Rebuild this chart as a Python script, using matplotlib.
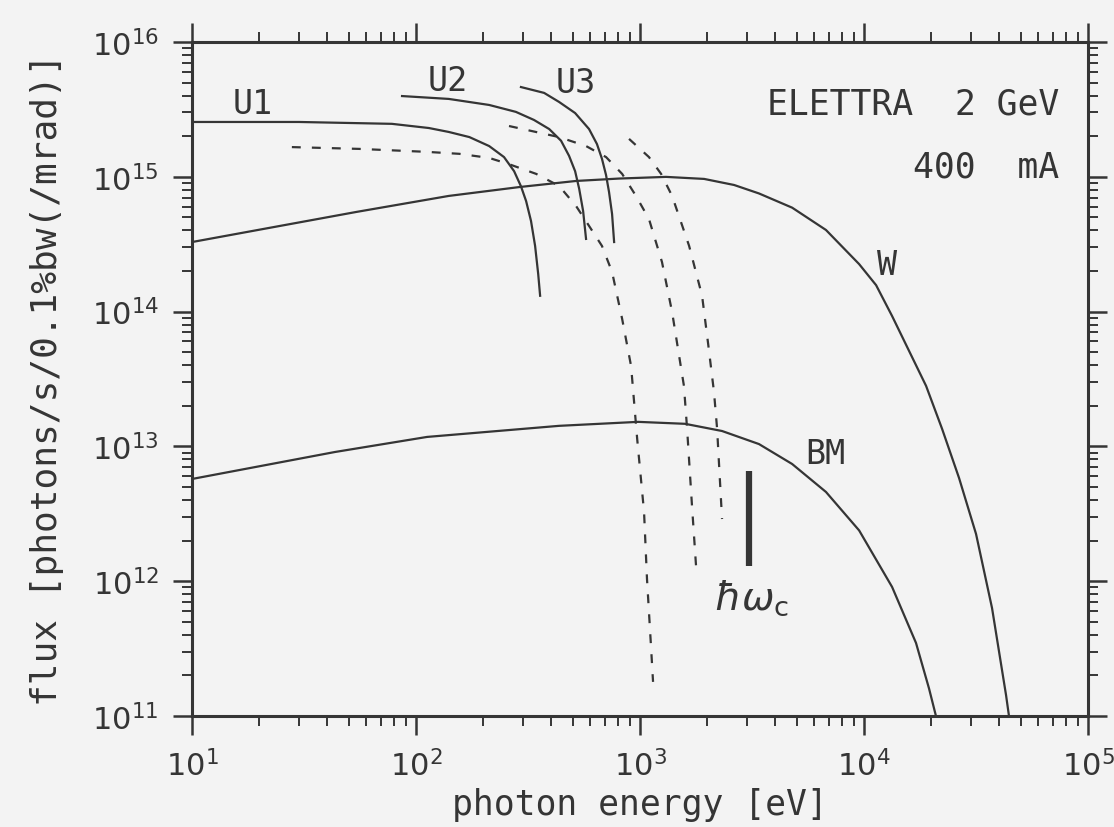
#Photon flux of the ELETTRA sources: undulators U1-U3, wiggler W and bending magnet BM
import matplotlib.pyplot as plt
from matplotlib.ticker import LogLocator, LogFormatterMathtext, NullFormatter

#Undulator U1 (solid) and its dashed companion
u1_E = [10, 30, 78, 114, 140, 173, 212, 247, 274, 294, 310, 326, 340, 351, 358]
u1_F = [2.55e15, 2.55e15, 2.47e15, 2.30e15, 2.15e15, 1.97e15, 1.69e15, 1.40e15,
        1.10e15, 8.5e14, 6.6e14, 4.7e14, 3.07e14, 1.90e14, 1.31e14]
u1d_E = [27.9, 55.7, 112, 156, 212, 260, 344, 435, 518, 592, 676, 750, 832, 912,
         971, 1042, 1074, 1119, 1143]
u1d_F = [1.66e15, 1.61e15, 1.53e15, 1.48e15, 1.38e15, 1.24e15, 1.05e15, 8.55e14,
         6.07e14, 4.32e14, 3.07e14, 1.97e14, 8.81e13, 3.94e13, 1.135e13, 3.26e12,
         1.04e12, 3.30e11, 1.79e11]

#Undulator U2
u2_E = [86.6, 140, 212, 279, 336, 393, 444, 482, 513, 535, 557, 574]
u2_F = [3.97e15, 3.78e15, 3.41e15, 3.03e15, 2.64e15, 2.26e15, 1.85e15, 1.43e15,
        1.10e15, 8.13e14, 5.57e14, 3.46e14]
u2d_E = [260, 435, 574, 705, 832, 959, 1096, 1253, 1390, 1570, 1622, 1706, 1778]
u2d_F = [2.38e15, 1.97e15, 1.69e15, 1.40e15, 1.05e15, 7.21e14, 4.86e14, 2.33e14,
         9.93e13, 2.81e13, 1.35e13, 3.61e12, 1.30e12]

#Undulator U3
u3_E = [294, 373, 435, 513, 592, 642, 676, 705, 727, 750, 766]
u3_F = [4.63e15, 4.19e15, 3.59e15, 2.97e15, 2.26e15, 1.75e15, 1.36e15, 1.03e15,
        7.71e14, 5.30e14, 3.28e14]
u3d_E = [893, 1096, 1242, 1390, 1656, 1892, 2014, 2138, 2208, 2323]
u3d_F = [1.91e15, 1.40e15, 1.05e15, 7.21e14, 3.07e14, 1.31e14, 5.75e13, 2.54e13,
         1.35e13, 2.89e12]

#Wiggler
w_E = [10, 54, 140, 291, 518, 805, 1306, 1932, 2630, 3396, 4775, 6761, 9506,
       11320, 13340, 15890, 18920, 22300, 26550, 31620, 37270, 43040, 44360]
w_F = [3.28e14, 5.48e14, 7.21e14, 8.40e14, 9.31e14, 9.7e14, 9.98e14, 9.64e14,
       8.69e14, 7.52e14, 5.90e14, 4.03e14, 2.25e14, 1.57e14, 9.27e13, 5.10e13,
       2.81e13, 1.35e13, 5.83e12, 2.24e12, 6.32e11, 1.43e11, 1.0e11]

#Bending magnet
bm_E = [10, 43.4, 112, 435, 980, 1589, 2323, 3396, 4775, 6761, 9506, 13340,
        17060, 19500, 20940]
bm_F = [5.73e12, 9.08e12, 1.175e13, 1.42e13, 1.52e13, 1.47e13, 1.30e13, 1.04e13,
        7.40e12, 4.59e12, 2.38e12, 9.06e11, 3.48e11, 1.60e11, 1.0e11]

#Critical energy marker
E_crit = 3070
crit_F = [1.3e12, 6.6e12]

ink = '#353535'
paper = '#f3f3f3'
mono = 'DejaVu Sans Mono'

fig = plt.figure(figsize=(11.14, 8.28), dpi=100, facecolor=paper)
ax = fig.add_axes([0.1724, 0.1341, 0.8043, 0.814])
ax.set_facecolor(paper)

dash = (0, (4, 5))
ax.plot(u1_E, u1_F, color=ink, lw=1.6)
ax.plot(u2_E, u2_F, color=ink, lw=1.6)
ax.plot(u3_E, u3_F, color=ink, lw=1.6)
ax.plot(u1d_E, u1d_F, color=ink, lw=1.6, ls=dash)
ax.plot(u2d_E, u2d_F, color=ink, lw=1.6, ls=dash)
ax.plot(u3d_E, u3d_F, color=ink, lw=1.6, ls=dash)
ax.plot(w_E, w_F, color=ink, lw=1.6)
ax.plot(bm_E, bm_F, color=ink, lw=1.6)
ax.plot([E_crit, E_crit], crit_F, color=ink, lw=4.5, solid_capstyle='butt')

ax.set_xscale('log')
ax.set_yscale('log')
ax.set_xlim(10, 1e5)
ax.set_ylim(1e11, 1e16)

#Curve labels
lab = dict(color=ink, fontsize=24, family=mono, ha='center', va='center')
ax.text(18.7, 3.5e15, 'U1', **lab)
ax.text(139, 5.2e15, 'U2', **lab)
ax.text(518, 4.97e15, 'U3', **lab)
ax.text(12670, 2.25e14, 'W', **lab)
ax.text(6700, 8.8e12, 'BM', **lab)
ax.text(3130, 7.6e11, r'$\hbar\omega_{\rm c}$', color=ink, fontsize=28,
        ha='center', va='center')
ax.text(74300, 3.5e15, 'ELETTRA  2 GeV', color=ink, fontsize=25, family=mono,
        ha='right', va='center')
ax.text(74300, 1.2e15, '400  mA', color=ink, fontsize=25, family=mono,
        ha='right', va='center')

#Frame and ticks
for s in ax.spines.values():
    s.set_linewidth(2.2)
    s.set_color(ink)
ax.xaxis.set_major_locator(LogLocator(base=10, numticks=10))
ax.yaxis.set_major_locator(LogLocator(base=10, numticks=10))
ax.xaxis.set_minor_locator(LogLocator(base=10, subs=range(2, 10), numticks=20))
ax.yaxis.set_minor_locator(LogLocator(base=10, subs=range(2, 10), numticks=20))
ax.xaxis.set_minor_formatter(NullFormatter())
ax.yaxis.set_minor_formatter(NullFormatter())
ax.xaxis.set_major_formatter(LogFormatterMathtext())
ax.yaxis.set_major_formatter(LogFormatterMathtext())
ax.tick_params(which='both', direction='out', colors=ink, top=True, right=True)
ax.tick_params(which='major', length=14, width=1.8, labelsize=22)
ax.tick_params(which='minor', length=7, width=1.4)
ax.tick_params(axis='x', which='major', pad=10, labeltop=False)
ax.tick_params(axis='y', which='major', pad=10, labelright=False)

ax.set_xlabel('photon energy [eV]', fontsize=25, family=mono, color=ink, labelpad=4)
ax.set_ylabel('flux [photons/s/0.1%bw(/mrad)]', fontsize=26, family=mono,
              color=ink, labelpad=20)

plt.savefig('out.png', dpi=100, facecolor=paper)
